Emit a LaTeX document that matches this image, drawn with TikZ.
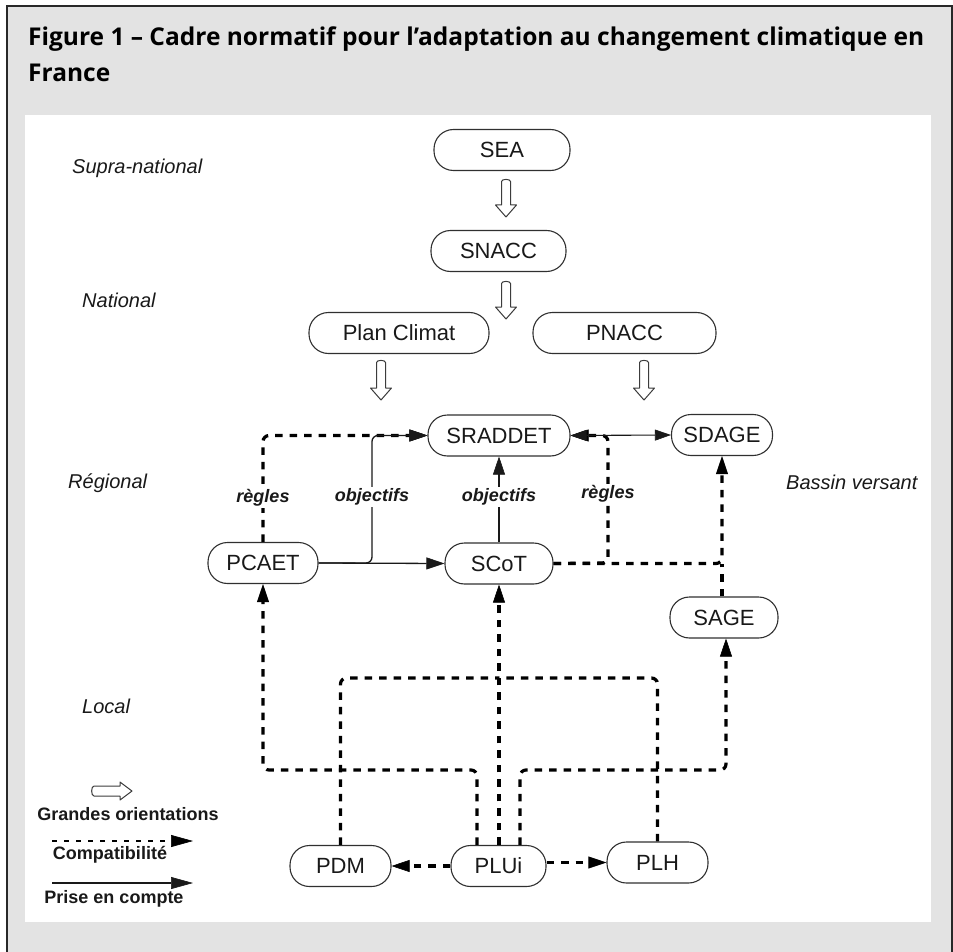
\documentclass[tikz,border=0pt]{standalone}
\usepackage{fontspec}
\setmainfont{Liberation Sans}
\newfontfamily\titlefont{Open Sans}
\usetikzlibrary{arrows.meta}
\definecolor{bggray}{RGB}{227,227,227}
\definecolor{framecol}{RGB}{40,40,40}
\definecolor{inkcol}{RGB}{25,25,25}
% hollow "grandes orientations" arrows: #1 centre x, #2 top y, #3 tip y
\newcommand\hollowdown[3]{%
  \draw[hollowst] (#1-4.5,#2+1.5) to[out=90,in=90,looseness=0.8] (#1+4.5,#2+1.5) -- (#1+4.5,#3-12) -- (#1+10.5,#3-12)
    -- (#1,#3) -- (#1-10.5,#3-12) -- (#1-4.5,#3-12) -- cycle;}
\begin{document}
\begin{tikzpicture}[x=1pt,y=-1pt,
  mytri/.tip={Triangle[length=18pt,width=12pt,line width=0.6pt]},
  smalltri/.tip={Triangle[length=16pt,width=11pt,line width=0.6pt]},
  pill/.style={draw=inkcol!90, line width=1.1pt, rounded corners=19.5pt, minimum height=41pt,
    inner sep=0pt, fill=white, text=inkcol, font=\fontsize{22}{24}\selectfont},
  hollowst/.style={draw=inkcol!85, line width=1pt, fill=white, line join=round},
  solidc/.style={line width=1.3pt, draw=inkcol, -{mytri}},
  compat/.style={line width=3.2pt, dash pattern=on 7.5pt off 7pt, draw=black, rounded corners=6pt},
  lbl/.style={fill=white, inner sep=2pt, text=inkcol, font=\bfseries\itshape\fontsize{18}{20}\selectfont},
  lvl/.style={anchor=west, inner sep=0pt, text=inkcol, font=\itshape\fontsize{20}{22}\selectfont},
  leg/.style={inner sep=0pt, text=inkcol, font=\bfseries\fontsize{18}{20}\selectfont},
  ttl/.style={anchor=base west, inner sep=0pt, text=black, font=\titlefont\bfseries\fontsize{24.5}{28}\selectfont}
]
\useasboundingbox (0,0) rectangle (953,952);
% background frame
\fill[bggray] (6.5,6.5) rectangle (951.5,952);
\draw[framecol, line width=2pt] (6.5,952) -- (6.5,6.5) -- (951.5,6.5) -- (951.5,952);
\fill[white] (25,115) rectangle (931,922);

% title
\node[ttl] (title1) at (28,46)
  {Figure 1 – Cadre normatif pour l’adaptation au changement climatique en};
\node[ttl] (title2) at (28,82) {France};

% level labels
\node[lvl] (supra) at (72,168) {Supra-national};
\node[lvl] (nat) at (82,300) {National};
\node[lvl] (reg) at (68,483) {Régional};
\node[lvl] (loc) at (82,706) {Local};
\node[lvl] (bassin) at (786,482) {Bassin versant};

% nodes
\node[pill, minimum width=136pt] (sea) at (502,150) {SEA};
\node[pill, minimum width=135pt] (snacc) at (498.5,251) {SNACC};
\node[pill, minimum width=180pt] (plan) at (399,333) {Plan Climat};
\node[pill, minimum width=183pt] (pnacc) at (624.5,333) {PNACC};
\node[pill, minimum width=142pt] (sraddet) at (499,435.5) {SRADDET};
\node[pill, minimum width=101pt] (sdage) at (722,435) {SDAGE};
\node[pill, minimum width=110pt] (pcaet) at (263,563) {PCAET};
\node[pill, minimum width=108pt] (scot) at (499,563.5) {SCoT};
\node[pill, minimum width=108pt] (sage) at (724,617.5) {SAGE};
\node[pill, minimum width=101pt] (pdm) at (340.5,866) {PDM};
\node[pill, minimum width=95pt] (plui) at (498.5,866) {PLUi};
\node[pill, minimum width=101pt] (plh) at (657.5,862.5) {PLH};

% hollow arrows (grandes orientations)
\hollowdown{506}{180}{217}
\hollowdown{506}{282}{319}
\hollowdown{381}{361}{400}
\hollowdown{644}{361}{400}

% helper coordinates
\coordinate (k1) at (372,563);
\coordinate (k2) at (608,563);
\coordinate (lowy) at (0,770);
\coordinate (topy) at (0,678);

% PCAET -> SRADDET (regles, compatibilite)
\draw[compat,-{mytri}] (pcaet.north) -- (pcaet.north |- sraddet.west) -- (sraddet.west);
% PCAET -> SRADDET (objectifs, prise en compte)
\draw[solidc, rounded corners=6pt] (pcaet.east) -- (k1) -- (k1 |- sraddet.west) -- (sraddet.west);
% PCAET -> SCoT
\draw[solidc] (pcaet.east) -- (scot.west);
% SCoT -> SRADDET
\draw[solidc] (scot.north) -- (sraddet.south);
% SCoT -> SRADDET (regles)
\draw[compat,-{mytri}] (scot.east) -- (k2) -- (k2 |- sraddet.east) -- (sraddet.east);
% SRADDET <-> SDAGE
\draw[line width=1.1pt, draw=inkcol, {smalltri}-{smalltri}] (sraddet.east) -- (sdage.west);
% SCoT -> SDAGE
\draw[compat,-{mytri}] (scot.east) -- (sdage.south |- scot.east) -- (sdage.south);
% SAGE -> SDAGE
\draw[compat] (sage.north -| sdage.south) -- (sdage.south |- scot.east);

% PLUi -> PCAET
\draw[compat,-{mytri}] ([xshift=-21.5pt]plui.north) -- ([xshift=-21.5pt]plui.north |- lowy)
  -- (pcaet.south |- lowy) -- (pcaet.south);
% PLUi -> SCoT
\draw[compat,-{mytri}] (plui.north -| scot.south) -- (scot.south);
% PLUi -> SAGE
\draw[compat,-{mytri}] ([xshift=21.5pt]plui.north) -- ([xshift=21.5pt]plui.north |- lowy)
  -- ([xshift=2pt]sage.south |- lowy) -- ([xshift=2pt]sage.south);
% PDM -> SCoT
\draw[compat] (pdm.north) -- (pdm.north |- topy) -- (scot.south |- topy);
% PLH -> SCoT
\draw[compat] (plh.north) -- (plh.north |- topy) -- (scot.south |- topy);
% PLUi -> PDM, PLUi -> PLH
\draw[compat,-{mytri}] (plui.west) -- (pdm.east);
\draw[compat,-{mytri}] (plui.east |- plh.west) -- (plh.west);

% relation labels
\node[lbl] (r1) at (263,498) {règles};
\node[lbl] (o1) at (372,497) {objectifs};
\node[lbl] (o2) at (499,497) {objectifs};
\node[lbl] (r2) at (608,494) {règles};

% legend
\draw[hollowst] (94,786) to[out=180,in=180,looseness=0.8] (94,796) -- (120,796) -- (120,800)
  -- (132,791) -- (120,782) -- (120,786) -- cycle;
\node[leg] (lg1t) at (128,814) {Grandes orientations};
\coordinate (lg2a) at (52,841);
\coordinate (lg2b) at (193,841);
\draw[line width=2.4pt, dash pattern=on 5pt off 7pt, draw=black,
  -{Triangle[length=22pt,width=12pt,line width=0.6pt]}] (lg2a) -- (lg2b);
\node[leg] (lg2t) at (110,855) {Compatibilité};
\coordinate (lg3a) at (52,883);
\coordinate (lg3b) at (193,883);
\draw[line width=1.1pt, draw=inkcol,
  -{Triangle[length=22pt,width=12pt,line width=0.6pt]}] (lg3a) -- (lg3b);
\node[leg] (lg3t) at (114,899) {Prise en compte};
\end{tikzpicture}
\end{document}
